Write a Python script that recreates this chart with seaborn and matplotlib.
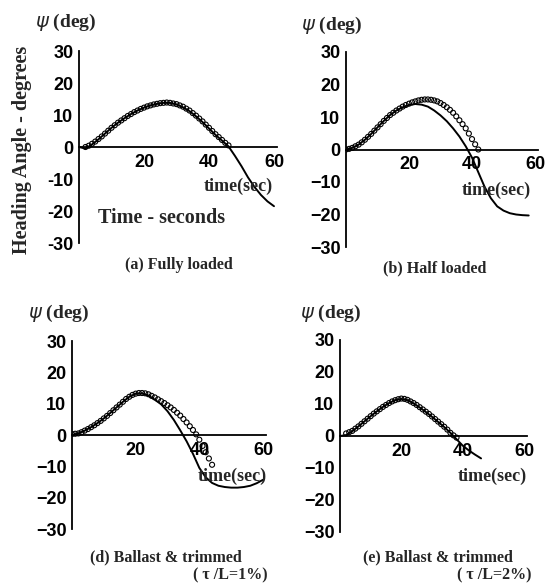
import matplotlib
matplotlib.use("Agg")
import matplotlib.pyplot as plt
import seaborn as sns

# ---------------- data ----------------
t_line_a = [0, 2, 4, 6, 8, 10, 12, 14, 16, 18, 20, 22, 24, 26, 28, 30, 32, 34, 36, 38, 40, 42, 44, 46, 48, 50, 52, 54, 56, 58, 60]
psi_line_a = [0, -0.5, 0.8, 2.4, 4.2, 6, 7.6, 9, 10.3, 11.4, 12.3, 13, 13.5, 13.8, 13.8, 13.3, 12.4, 11.2, 9.6, 7.8, 5.8, 3.8, 2, 0.2, -2.8, -6, -9.5, -12.5, -15, -17, -18.5]
t_circ_a = [2, 3, 4, 5, 6, 7, 8, 9, 10, 11, 12, 13, 14, 15, 16, 17, 18, 19, 20, 21, 22, 23, 24, 25, 26, 27, 28, 29, 30, 31, 32, 33, 34, 35, 36, 37, 38, 39, 40, 41, 42, 43, 44, 45, 46]
psi_circ_a = [0, 0.4, 1, 1.7, 2.5, 3.3, 4.2, 5.1, 6, 6.8, 7.6, 8.3, 9, 9.7, 10.3, 10.9, 11.4, 11.9, 12.3, 12.7, 13, 13.3, 13.5, 13.7, 13.8, 13.9, 13.8, 13.6, 13.4, 13, 12.6, 12, 11.4, 10.6, 9.8, 8.9, 8, 7, 6, 5, 4, 3.1, 2.2, 1.3, 0.5]

t_line_b = [0, 2, 4, 6, 8, 10, 12, 14, 16, 18, 20, 22, 24, 26, 28, 30, 32, 34, 36, 38, 40, 42, 44, 46, 48, 50, 52, 54, 56, 58]
psi_line_b = [0, 0.5, 1.5, 3, 4.8, 6.8, 8.8, 10.6, 12, 13, 13.7, 14, 13.8, 13.2, 12, 10.5, 8.7, 6.5, 4, 1, -2.5, -7, -11.5, -15, -17.5, -18.8, -19.6, -20, -20.2, -20.3]
t_circ_b = [0, 1, 2, 3, 4, 5, 6, 7, 8, 9, 10, 11, 12, 13, 14, 15, 16, 17, 18, 19, 20, 21, 22, 23, 24, 25, 26, 27, 28, 29, 30, 31, 32, 33, 34, 35, 36, 37, 38, 39, 40, 41, 42]
psi_circ_b = [0, 0.2, 0.5, 1, 1.5, 2.2, 3, 3.9, 4.8, 5.8, 6.8, 7.8, 8.8, 9.7, 10.6, 11.3, 12, 12.6, 13.2, 13.7, 14.1, 14.5, 14.8, 15.1, 15.3, 15.4, 15.4, 15.3, 15.1, 14.8, 14.3, 13.7, 13, 12.2, 11.3, 10.2, 9, 7.8, 6.5, 4.9, 3.2, 1.6, 0]

t_line_d = [0, 2, 4, 6, 8, 10, 12, 14, 16, 18, 20, 22, 24, 26, 28, 30, 32, 34, 36, 38, 40, 42, 44, 46, 48, 50, 52, 54, 56, 58, 60]
psi_line_d = [0, 0.5, 1.4, 2.5, 3.8, 5.3, 7, 8.8, 10.6, 12.2, 13.2, 13.3, 12.6, 11.3, 9.8, 7.6, 4.8, 1.5, -2, -6, -10.5, -13.5, -15.3, -16.2, -16.6, -16.8, -16.8, -16.6, -16.2, -15.4, -14.3]
t_circ_d = [0, 1, 2, 3, 4, 5, 6, 7, 8, 9, 10, 11, 12, 13, 14, 15, 16, 17, 18, 19, 20, 21, 22, 23, 24, 25, 26, 27, 28, 29, 30, 31, 32, 33, 34, 35, 36, 37, 38, 39, 40, 41, 42, 43, 44]
psi_circ_d = [0.3, 0.4, 0.5, 0.9, 1.4, 1.9, 2.5, 3.1, 3.8, 4.5, 5.3, 6.1, 7, 7.9, 8.8, 9.7, 10.6, 11.5, 12.2, 12.8, 13.2, 13.4, 13.4, 13.3, 13, 12.5, 12, 11.4, 10.8, 10.2, 9.5, 8.8, 8, 7.1, 6.2, 5.1, 4, 2.8, 1.6, 0.2, -1.5, -3.5, -5.5, -7.5, -9.5]

t_line_e = [0, 2, 4, 6, 8, 10, 12, 14, 16, 18, 20, 22, 24, 26, 28, 30, 32, 34, 36, 38, 40, 42, 44, 46]
psi_line_e = [0, 0.3, 1.5, 3, 4.6, 6.2, 7.7, 9.1, 10.3, 11.2, 11.6, 11.2, 10.2, 8.9, 7.5, 6, 4.4, 2.8, 1, -1, -3, -4.5, -5.8, -7]
t_circ_e = [2, 3, 4, 5, 6, 7, 8, 9, 10, 11, 12, 13, 14, 15, 16, 17, 18, 19, 20, 21, 22, 23, 24, 25, 26, 27, 28, 29, 30, 31, 32, 33, 34, 35, 36, 37, 38]
psi_circ_e = [0.8, 1.2, 1.6, 2.3, 3, 3.8, 4.6, 5.4, 6.2, 7, 7.7, 8.4, 9.1, 9.7, 10.3, 10.8, 11.2, 11.5, 11.7, 11.6, 11.3, 10.8, 10.3, 9.7, 9, 8.3, 7.6, 6.9, 6.1, 5.3, 4.5, 3.7, 2.9, 2, 1, 0.2, -0.5]

x_ticks = [10, 20, 30, 40, 50, 60]
x_tick_labels = ["", "20", "", "40", "", "60"]
y_ticks = [-30, -20, -10, 0, 10, 20, 30]
y_tick_labels_a = ["-30", "-20", "-10", "0", "10", "20", "30"]
y_tick_labels = ["\u221230", "\u221220", "\u221210", "0", "10", "20", "30"]

captions = ["(a) Fully loaded", "(b) Half loaded", "(d) Ballast & trimmed", "(e) Ballast & trimmed"]
subcaptions = ["", "", "( \u03c4 /L=1%)", "( \u03c4 /L=2%)"]

# ---------------- figure ----------------
sns.set_style("white")
W, H = 545, 583
fig = plt.figure(figsize=(W / 100, H / 100), dpi=100)

SANS = ["Liberation Sans", "DejaVu Sans"]
SERIF = ["Liberation Serif", "DejaVu Serif"]


def px(x, y):
    return x / W, 1 - y / H


def make_ax(x0, x60, y30, ym30):
    left = x0 / W
    width = (x60 - x0) / 60 * 61 / W
    bottom = 1 - ym30 / H
    height = (ym30 - y30) / H
    return fig.add_axes([left, bottom, width, height])


panels = [
    dict(box=(79, 274, 51, 243), tl=t_line_a, pl=psi_line_a, tc=t_circ_a, pc=psi_circ_a, yl=y_tick_labels_a,
         psi=(35, 22), time=(273, 186), cap=(179, 265), sub=None),
    dict(box=(346, 535, 52, 247), tl=t_line_b, pl=psi_line_b, tc=t_circ_b, pc=psi_circ_b, yl=y_tick_labels,
         psi=(301, 25), time=(531, 190), cap=(435, 268), sub=None),
    dict(box=(72, 263, 341, 529), tl=t_line_d, pl=psi_line_d, tc=t_circ_d, pc=psi_circ_d, yl=y_tick_labels,
         psi=(28, 313), time=(267, 476), cap=(166, 557), sub=(230, 575)),
    dict(box=(340, 524, 340, 532), tl=t_line_e, pl=psi_line_e, tc=t_circ_e, pc=psi_circ_e, yl=y_tick_labels,
         psi=(300, 313), time=(527, 476), cap=(438, 557), sub=(494, 575)),
]

for i, p in enumerate(panels):
    ax = make_ax(*p["box"])
    sns.lineplot(x=p["tl"], y=p["pl"], ax=ax, color="black", linewidth=1.4, sort=False)
    sns.scatterplot(x=p["tc"], y=p["pc"], ax=ax, marker="o", s=13, facecolor="none",
                    edgecolor="black", linewidth=0.8)
    ax.set_xlim(0, 61)
    ax.set_ylim(-30, 30)
    for s in ["top", "right"]:
        ax.spines[s].set_visible(False)
    ax.spines["bottom"].set_position(("data", 0))
    ax.spines["bottom"].set_linewidth(1.3)
    ax.spines["left"].set_linewidth(1.3)
    ax.spines["bottom"].set_color("black")
    ax.spines["left"].set_color("black")
    ax.set_xticks(x_ticks, labels=x_tick_labels)
    ax.set_yticks(y_ticks, labels=p["yl"])
    ax.tick_params(axis="x", direction="in", length=3, width=1.2, pad=5, labelsize=13, colors="black")
    ax.tick_params(axis="y", direction="in", length=3, width=1.2, pad=4, labelsize=13, colors="black")
    for lab in ax.get_xticklabels() + ax.get_yticklabels():
        lab.set_family(SANS)
        lab.set_fontweight("bold")
    ax.set_xlabel("")
    ax.set_ylabel("")
    ax.patch.set_alpha(0)

    fx, fy = px(*p["psi"])
    fig.text(fx, fy, r"$\psi$ (deg)", family=SERIF, fontsize=14, fontweight="bold",
             ha="left", va="center")
    fx, fy = px(*p["time"])
    fig.text(fx, fy, "time(sec)", family=SERIF, fontsize=13, fontweight="bold", ha="right", va="center")
    fx, fy = px(*p["cap"])
    fig.text(fx, fy, captions[i], family=SERIF, fontsize=11.5, fontweight="bold", ha="center", va="center")
    if p["sub"] is not None:
        fx, fy = px(*p["sub"])
        fig.text(fx, fy, subcaptions[i], family=SERIF, fontsize=11.5, fontweight="bold", ha="center", va="center")

fx, fy = px(22, 150)
fig.text(fx, fy, "Heading Angle - degrees", family=SERIF, fontsize=14.5, fontweight="bold",
         rotation=90, ha="center", va="center")
fx, fy = px(162, 218)
fig.text(fx, fy, "Time - seconds", family=SERIF, fontsize=14.5, fontweight="bold", ha="center", va="center")

fig.savefig("out.png", dpi=100, facecolor="white")
